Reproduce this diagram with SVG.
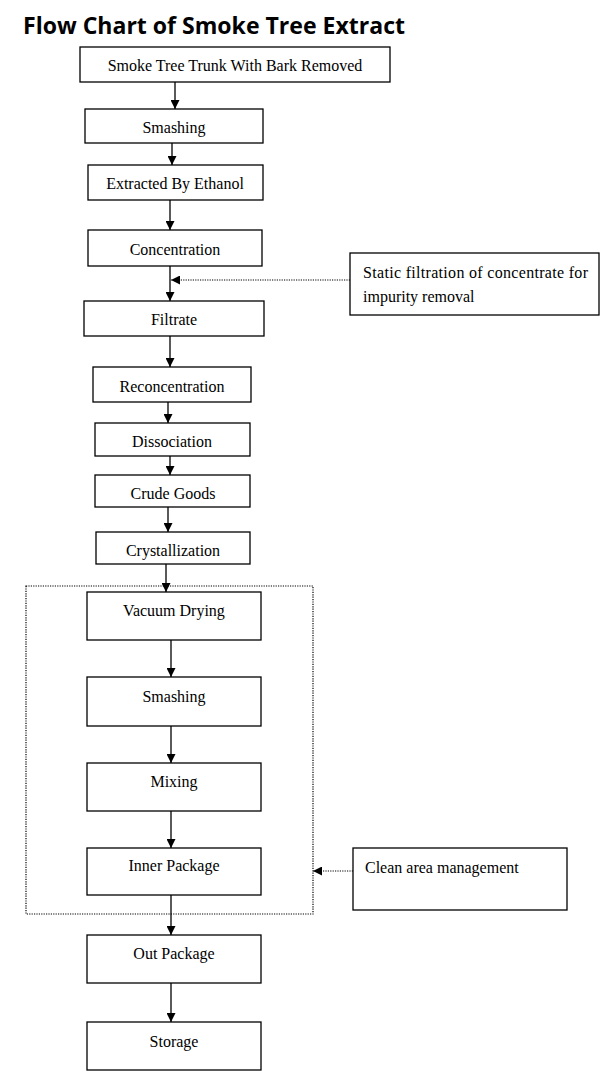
<svg xmlns="http://www.w3.org/2000/svg" width="600" height="1072" viewBox="0 0 600 1072">
<style>
.box{fill:#fff;stroke:#000;stroke-width:1.3}
.t{font-family:"Liberation Serif","Times New Roman",serif;font-size:16px;fill:#000;text-anchor:middle}
.tl{font-family:"Liberation Serif","Times New Roman",serif;font-size:16px;fill:#000}
.c{stroke:#000;stroke-width:1.3;fill:none}
.d{stroke:#000;stroke-width:1.2;fill:none;stroke-dasharray:1.2 1.2}
.title{font-family:"Open Sans","Liberation Sans",sans-serif;font-weight:bold;font-size:24px;fill:#000}
</style>
<defs>
<marker id="ah" viewBox="0 0 10 10" refX="10" refY="5" markerWidth="9" markerHeight="9" markerUnits="userSpaceOnUse" orient="auto">
<path d="M0,0 L10,5 L0,10 z" fill="#000"/>
</marker>
</defs>
<rect width="600" height="1072" fill="#fff"/>
<text class="title" x="23" y="34" textLength="382" lengthAdjust="spacingAndGlyphs">Flow Chart of Smoke Tree Extract</text>

<g id="cleanzone"><rect x="26" y="586" width="287" height="328" class="d"/></g>

<g id="connectors">
<line class="c" x1="175" y1="82" x2="175" y2="109" marker-end="url(#ah)"/>
<line class="c" x1="172" y1="143" x2="172" y2="165" marker-end="url(#ah)"/>
<line class="c" x1="170" y1="200" x2="170" y2="230" marker-end="url(#ah)"/>
<line class="c" x1="170" y1="266" x2="170" y2="301" marker-end="url(#ah)"/>
<line class="d" x1="350" y1="280" x2="171" y2="280" marker-end="url(#ah)"/>
<line class="c" x1="170" y1="336" x2="170" y2="367" marker-end="url(#ah)"/>
<line class="c" x1="168" y1="402" x2="168" y2="423" marker-end="url(#ah)"/>
<line class="c" x1="170" y1="456" x2="170" y2="475" marker-end="url(#ah)"/>
<line class="c" x1="168" y1="507" x2="168" y2="532" marker-end="url(#ah)"/>
<line class="c" x1="166" y1="564" x2="166" y2="592" marker-end="url(#ah)"/>
<line class="c" x1="171" y1="640" x2="171" y2="677" marker-end="url(#ah)"/>
<line class="c" x1="171" y1="726" x2="171" y2="763" marker-end="url(#ah)"/>
<line class="c" x1="171" y1="811" x2="171" y2="848" marker-end="url(#ah)"/>
<line class="d" x1="353" y1="871" x2="313" y2="871" marker-end="url(#ah)"/>
<line class="c" x1="171" y1="895" x2="171" y2="935" marker-end="url(#ah)"/>
<line class="c" x1="171" y1="983" x2="171" y2="1022" marker-end="url(#ah)"/>
</g>

<g id="n1"><rect class="box" x="80" y="47" width="310" height="35"/><text class="t" x="235" y="71">Smoke Tree Trunk With Bark Removed</text></g>
<g id="n2"><rect class="box" x="85" y="109" width="178" height="34"/><text class="t" x="174" y="133">Smashing</text></g>
<g id="n3"><rect class="box" x="88" y="165" width="175" height="35"/><text class="t" x="175" y="189">Extracted By Ethanol</text></g>
<g id="n4"><rect class="box" x="88" y="230" width="174" height="36"/><text class="t" x="175" y="255">Concentration</text></g>
<g id="side1"><rect class="box" x="350" y="253" width="249" height="62"/><text class="tl" x="363" y="278" textLength="225" lengthAdjust="spacing">Static filtration of concentrate for</text><text class="tl" x="363" y="302">impurity removal</text></g>
<g id="n5"><rect class="box" x="84" y="301" width="180" height="35"/><text class="t" x="174" y="325">Filtrate</text></g>
<g id="n6"><rect class="box" x="93" y="367" width="158" height="35"/><text class="t" x="172" y="392">Reconcentration</text></g>
<g id="n7"><rect class="box" x="95" y="423" width="155" height="33"/><text class="t" x="172" y="447">Dissociation</text></g>
<g id="n8"><rect class="box" x="95" y="475" width="155" height="32"/><text class="t" x="173" y="499">Crude Goods</text></g>
<g id="n9"><rect class="box" x="96" y="532" width="154" height="32"/><text class="t" x="173" y="556">Crystallization</text></g>
<g id="n10"><rect class="box" x="87" y="592" width="174" height="48"/><text class="t" x="174" y="616">Vacuum Drying</text></g>
<g id="n11"><rect class="box" x="87" y="677" width="174" height="49"/><text class="t" x="174" y="702">Smashing</text></g>
<g id="n12"><rect class="box" x="87" y="763" width="174" height="48"/><text class="t" x="174" y="787">Mixing</text></g>
<g id="n13"><rect class="box" x="87" y="848" width="174" height="47"/><text class="t" x="174" y="871">Inner Package</text></g>
<g id="side2"><rect class="box" x="353" y="848" width="214" height="62"/><text class="tl" x="365" y="873">Clean area management</text></g>
<g id="n14"><rect class="box" x="87" y="935" width="174" height="48"/><text class="t" x="174" y="959">Out Package</text></g>
<g id="n15"><rect class="box" x="87" y="1022" width="174" height="48"/><text class="t" x="174" y="1047">Storage</text></g>
</svg>
